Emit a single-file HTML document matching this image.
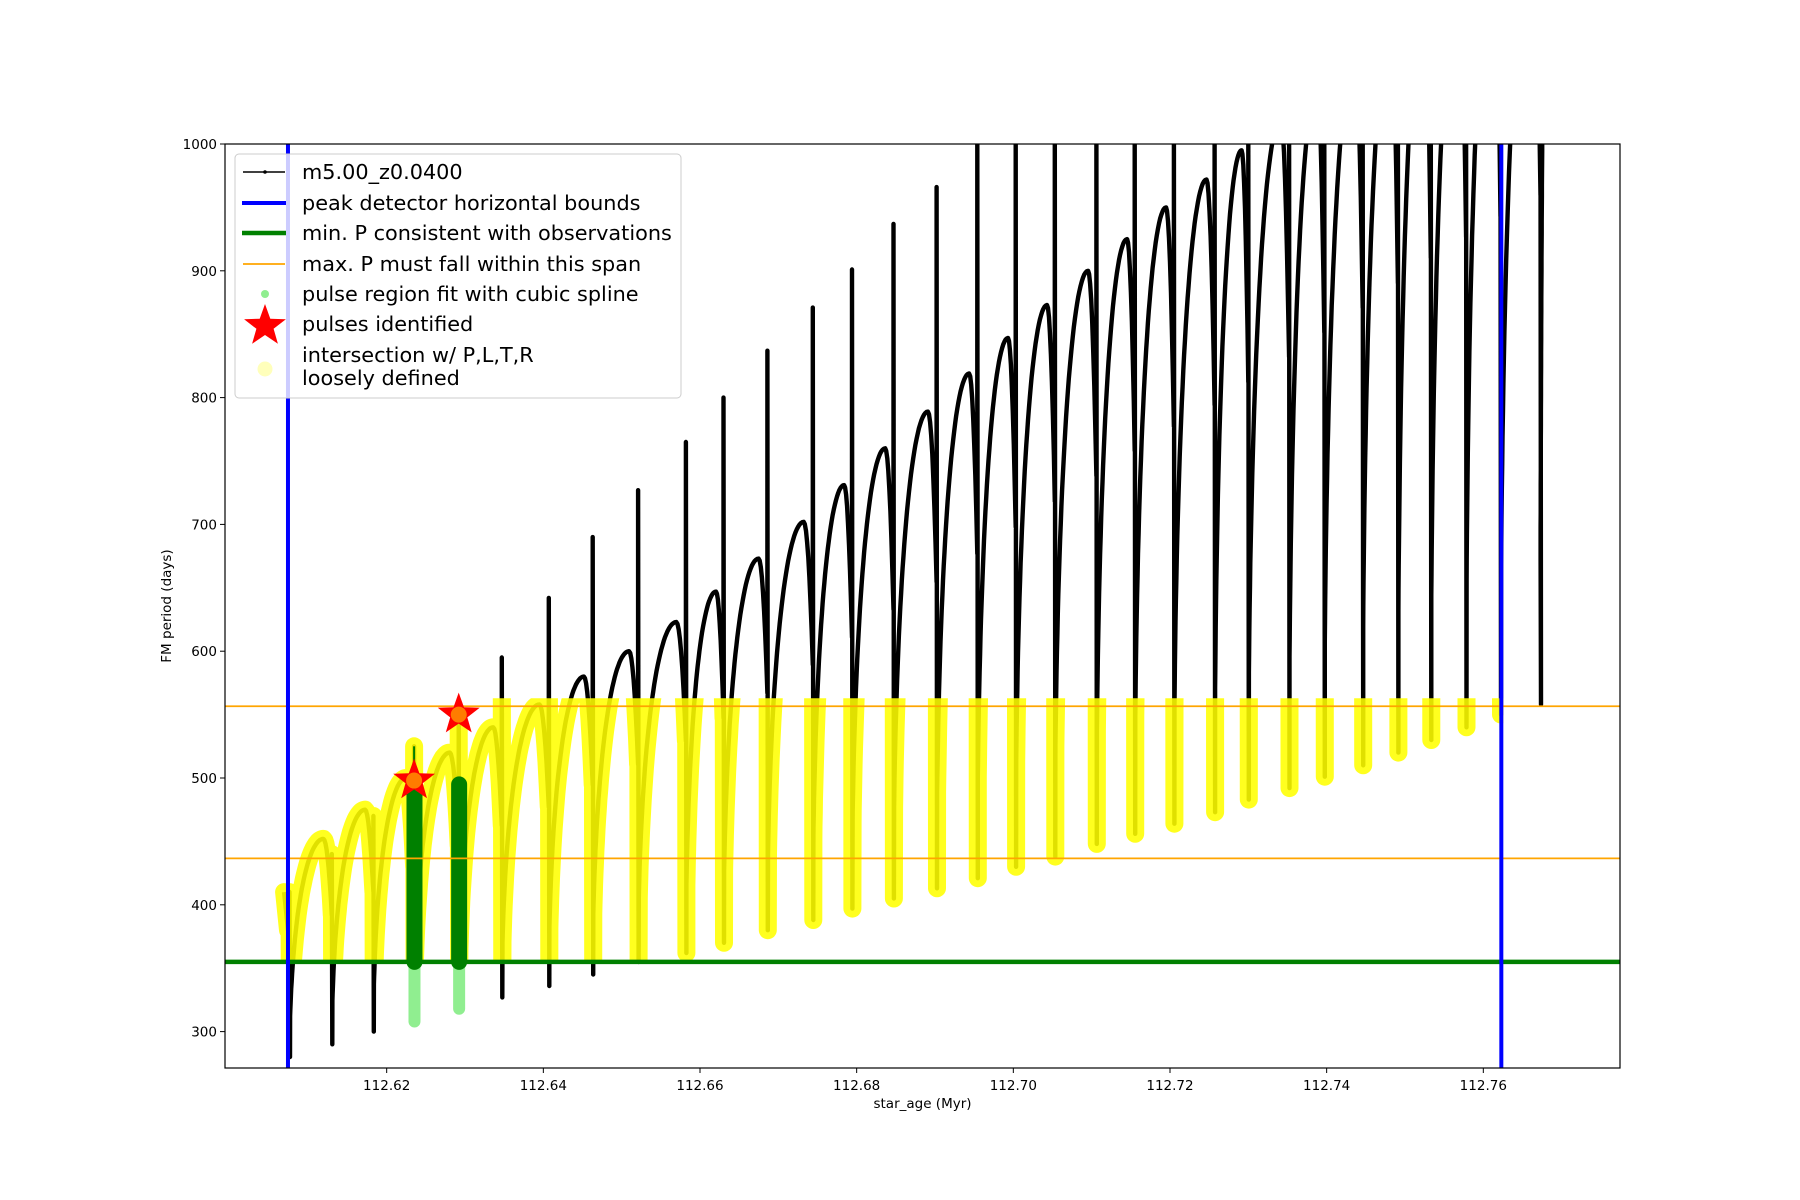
<!DOCTYPE html>
<html><head><meta charset="utf-8"><style>
html,body{margin:0;padding:0;background:#fff;}
svg{display:block;font-family:"DejaVu Sans","Liberation Sans",sans-serif;}
</style></head><body>
<svg id="chart" width="1800" height="1200" viewBox="0 0 1800 1200" xmlns="http://www.w3.org/2000/svg">
<defs>
<clipPath id="axclip"><rect x="225" y="144" width="1395" height="924"/></clipPath>
<clipPath id="yclip"><rect id="yclipRect" x="225" y="0" width="1395" height="0"/></clipPath>
</defs>
<rect x="0" y="0" width="1800" height="1200" fill="#fff"/>
<g id="plot" clip-path="url(#axclip)"></g>
<g id="axes"></g>
<g id="legend"></g>
</svg>
<script>
// ---- data ----
const spikeAge = [112.6076,112.6130,112.6183,112.6235,112.6292,112.6347,112.6407,112.6463,112.6521,112.6582,112.6630,112.6686,112.6744,112.6794,112.6847,112.6902,112.6954,112.7003,112.7053,112.7106,112.7155,112.7205,112.7257,112.7300,112.7352,112.7397,112.7446,112.7491,112.7533,112.7578,112.7622,112.7673];
const cyclePeak = [452,475,500,520,540,558,580,600,623,647,673,702,731,760,789,819,847,873,900,925,950,972,995,1020,1045,1070,1095,1120,1140,1160,1180,1200];
const cycleTrough = [280,290,300,310,318,327,336,345,355,362,370,380,388,397,405,413,421,430,438,448,456,464,473,483,492,501,510,520,530,540,550,558];
const spikeTop = [410,440,470,525,545,595,642,690,727,765,800,837,871,901,937,966,1010,1010,1010,1010,1010,1010,1010,1010,1010,1010,1010,1010,1010,1010,1010,1010];
const startPeriod = 410;
const pulseAge = [112.6235,112.6292];
const pulsePeriod = [498,550];
const fitLow = [308,318];
const fitHigh = [495,495];
const blueBounds = [112.6074,112.7623];
const minP = 355.0;
const maxPBand = [436.6,556.6];
const xTicks = [112.62,112.64,112.66,112.68,112.70,112.72,112.74,112.76];
const yTicks = [300,400,500,600,700,800,900,1000];
const xLim = [112.59936,112.77745];
const yLim = [271.3,1000];

const NS='http://www.w3.org/2000/svg';
const X0=225,X1=1620,Y0=1068,Y1=144;
function X(v){return X0+(v-xLim[0])/(xLim[1]-xLim[0])*(X1-X0);}
function Y(v){return Y0-(v-yLim[0])/(yLim[1]-yLim[0])*(Y0-Y1);}
function mk(tag,attrs,parent){const e=document.createElementNS(NS,tag);for(const k in attrs)e.setAttribute(k,attrs[k]);parent.appendChild(e);return e;}
const plot=document.getElementById('plot'),axes=document.getElementById('axes'),legend=document.getElementById('legend');

// build the black series
const pts=[];
pts.push([spikeAge[0]-0.0007,startPeriod]);
pts.push([spikeAge[0]-0.0002,startPeriod-30]);
for(let i=0;i<spikeAge.length;i++){
  const xs=spikeAge[i];
  const w=(i<spikeAge.length-1?spikeAge[i+1]-xs:0.0010);
  const tr=cycleTrough[i],pk=cyclePeak[i];
  pts.push([xs,spikeTop[i]]);
  pts.push([xs+0.00006,tr]);
  const last=(i===spikeAge.length-1);
  const uend=last?0.3:0.8;
  for(let k=1;k<=40;k++){
    const u=0.012+Math.pow(k/40,1.6)*(uend-0.012);
    const q=Math.min(u/0.8,1);
    pts.push([xs+u*w,tr+(pk-tr)*Math.sqrt(1-(1-q)*(1-q))]);
  }
  if(!last){
    for(let k=1;k<=8;k++){
      const u=0.8+k/8*0.2;
      const f=((u-0.8)/0.2);
      pts.push([xs+u*w,pk-(pk-tr)*0.35*f*f]);
    }
  }
}
const d=pts.map((p,i)=>(i?'L':'M')+X(p[0]).toFixed(1)+' '+Y(p[1]).toFixed(1)).join(' ');

// black series
const blk=mk('path',{d:d,fill:'none',stroke:'#000','stroke-width':4.4,'stroke-linejoin':'round'},plot);



// yellow loosely-defined overlay
const yr=document.getElementById('yclipRect');
yr.setAttribute('y',Y(maxPBand[1])-8);
yr.setAttribute('height',Y(minP)-Y(maxPBand[1])+8);
yr.setAttribute('width',X(blueBounds[1])+2-X0);
const yel=mk('path',{d:d,fill:'none',stroke:'#ffff00','stroke-width':18,'stroke-linecap':'round','stroke-linejoin':'round',opacity:0.88,'clip-path':'url(#yclip)'},plot);



// green fit regions
for(let i=0;i<pulseAge.length;i++){
  const lg=mk('line',{x1:X(pulseAge[i]+0.00005),x2:X(pulseAge[i]+0.00005),y1:Y(fitLow[i]),y2:Y(minP),stroke:'#90ee90','stroke-width':12,'stroke-linecap':'round'},plot);
  
  
  const dg=mk('line',{x1:X(pulseAge[i]+0.00005),x2:X(pulseAge[i]+0.00005),y1:Y(minP),y2:Y(fitHigh[i]),stroke:'#008000','stroke-width':16,'stroke-linecap':'round'},plot);
  
  
}
const gl=mk('line',{x1:X(pulseAge[0]),x2:X(pulseAge[0]),y1:Y(fitHigh[0]),y2:Y(525),stroke:'#008000','stroke-width':2},plot);



// horizontal / vertical reference lines
const gm=mk('line',{x1:X0,x2:X1,y1:Y(minP),y2:Y(minP),stroke:'#008000','stroke-width':4.5},plot);


maxPBand.forEach(v=>{
  const o=mk('line',{x1:X0,x2:X1,y1:Y(v),y2:Y(v),stroke:'#ffa500','stroke-width':1.8},plot);
  
  
});
blueBounds.forEach(v=>{
  const b=mk('line',{x1:X(v),x2:X(v),y1:Y1,y2:Y0,stroke:'#0000ff','stroke-width':4},plot);
  
  
});

// stars
function starPath(cx,cy,R,r){let s='';for(let k=0;k<10;k++){const a=-Math.PI/2+k*Math.PI/5;const rr=k%2?r:R;s+=(k?'L':'M')+(cx+rr*Math.cos(a)).toFixed(1)+' '+(cy+rr*Math.sin(a)).toFixed(1);}return s+'Z';}
for(let i=0;i<pulseAge.length;i++){
  const cx=X(pulseAge[i]),cy=Y(pulsePeriod[i]);
  const st=mk('path',{d:starPath(cx,cy,22,9),fill:'#ff0000'},plot);
  
  
  const c=mk('circle',{cx:cx,cy:cy,r:8,fill:'#ffb000',opacity:0.7},plot);
  
  
}

// axes frame
const fr=mk('rect',{x:X0,y:Y1,width:X1-X0,height:Y0-Y1,fill:'none',stroke:'#000','stroke-width':1.2},axes);


xTicks.forEach(v=>{
  const tk=mk('line',{x1:X(v),x2:X(v),y1:Y0,y2:Y0+5,stroke:'#000','stroke-width':1},axes);
  
  
  const t=mk('text',{x:X(v),y:Y0+22,'font-size':13.5,'text-anchor':'middle',fill:'#000'},axes);
  t.textContent=v.toFixed(2);
  
  
});
yTicks.forEach(v=>{
  const tk=mk('line',{x1:X0-5,x2:X0,y1:Y(v),y2:Y(v),stroke:'#000','stroke-width':1},axes);
  
  
  const t=mk('text',{x:X0-8,y:Y(v)+5,'font-size':13.5,'text-anchor':'end',fill:'#000'},axes);
  t.textContent=String(v);
  
  
});
const xl=mk('text',{x:(X0+X1)/2,y:1108,'font-size':13.5,'text-anchor':'middle',fill:'#000'},axes);
xl.textContent='star_age (Myr)';


const yl=mk('text',{x:0,y:0,'font-size':13.5,'text-anchor':'middle',fill:'#000',transform:'translate(171,'+((Y0+Y1)/2)+') rotate(-90)'},axes);
yl.textContent='FM period (days)';



// legend
const lb=mk('rect',{x:235,y:154,width:446,height:244,rx:4,fill:'#fff','fill-opacity':0.8,stroke:'#ccc','stroke-width':1},legend);


const entries=[
 ['m5.00_z0.0400',172,'black'],
 ['peak detector horizontal bounds',203,'blue'],
 ['min. P consistent with observations',233,'green'],
 ['max. P must fall within this span',264,'orange'],
 ['pulse region fit with cubic spline',294,'lg'],
 ['pulses identified',324,'star'],
 ['intersection w/ P,L,T,R',355,'yel'],
];
entries.forEach(e=>{
  const g=mk('g',{},legend);
  
  
  const y=e[1];
  if(e[2]==='black'){mk('line',{x1:243,x2:285,y1:y,y2:y,stroke:'#000','stroke-width':1.5},g);mk('circle',{cx:265,cy:y,r:1.8,fill:'#000'},g);}
  if(e[2]==='blue')mk('line',{x1:242,x2:286,y1:y,y2:y,stroke:'#0000ff','stroke-width':4},g);
  if(e[2]==='green')mk('line',{x1:242,x2:286,y1:y,y2:y,stroke:'#008000','stroke-width':4.5},g);
  if(e[2]==='orange')mk('line',{x1:243,x2:285,y1:y,y2:y,stroke:'#ffa500','stroke-width':1.8},g);
  if(e[2]==='lg')mk('circle',{cx:265,cy:y,r:4,fill:'#90ee90'},g);
  if(e[2]==='star')mk('path',{d:starPath(265,y+2,22,9),fill:'#ff0000'},g);
  if(e[2]==='yel')mk('circle',{cx:265,cy:369,r:7.5,fill:'#ffffaa',opacity:0.8},g);
  const t=mk('text',{x:302,y:y+7,'font-size':20.8,fill:'#000'},g);
  t.textContent=e[0];
});
const t2=mk('text',{x:302,y:385,'font-size':20.8,fill:'#000'},legend);
t2.textContent='loosely defined';


</script>
</body></html>
